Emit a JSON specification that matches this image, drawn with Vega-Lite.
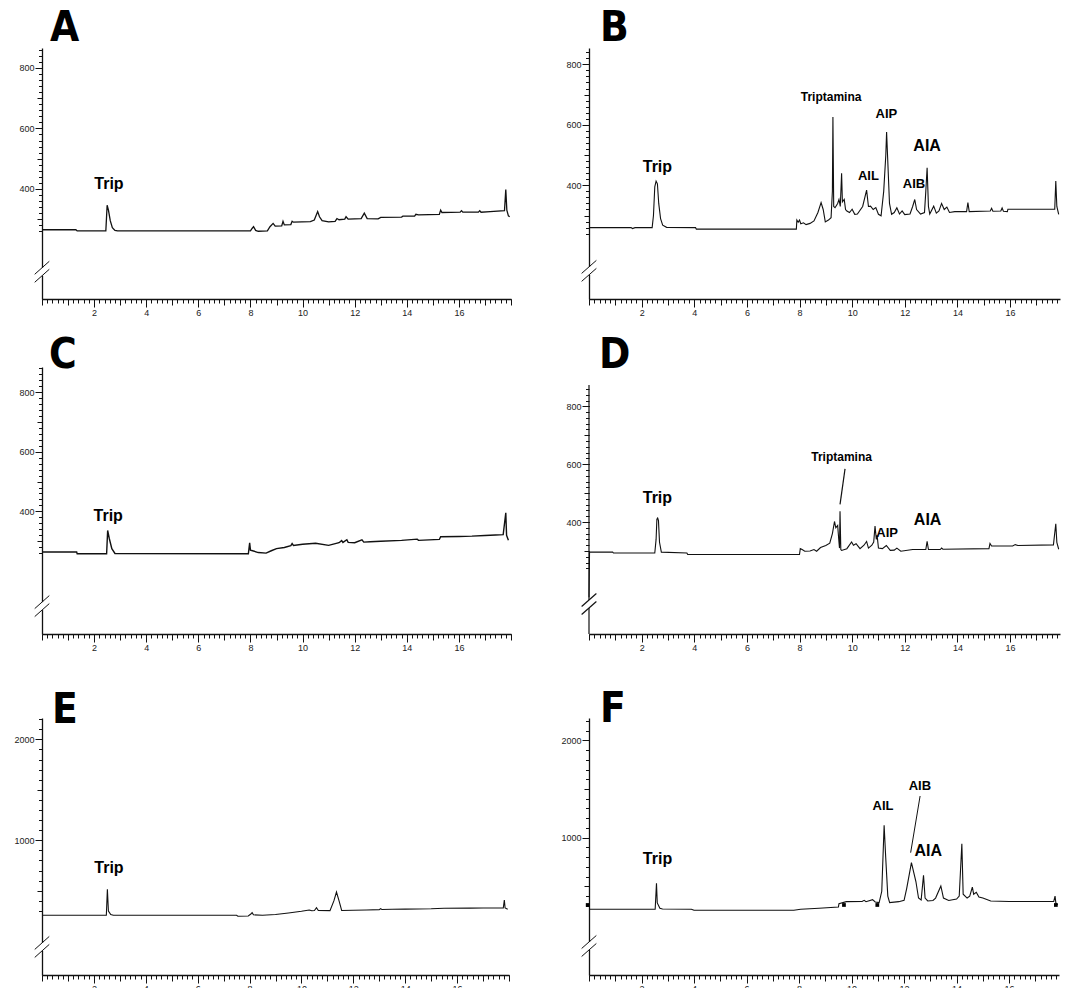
{
  "$schema": "https://vega.github.io/schema/vega-lite/v6.json",
  "padding": {"left": 5, "top": 7, "right": 0, "bottom": 0},
  "background": "white",
  "config": {
    "view": {"stroke": null},
    "axis": {"domainColor": "#111", "domainWidth": 1.3, "tickColor": "#111", "tickWidth": 1, "labelFont": "Liberation Sans", "labelFontSize": 9, "labelColor": "#222", "grid": false, "labelOverlap": false, "labelFlush": false, "labelBound": false},
    "title": {"anchor": "start", "frame": "group", "font": "Liberation Sans Narrow, DejaVu Sans Condensed, Liberation Sans", "fontSize": 42, "fontWeight": "bold", "baseline": "alphabetic", "color": "#000"},
    "text": {"font": "Liberation Sans", "fontWeight": "bold", "align": "center", "baseline": "middle", "color": "#000"}
  },
  "datasets": {
    "trA": [{"x":0,"y":265},{"x":1.3,"y":265},{"x":1.35,"y":261},{"x":2.45,"y":261},{"x":2.5,"y":346},{"x":2.55,"y":330},{"x":2.62,"y":295},{"x":2.7,"y":272},{"x":2.8,"y":263},{"x":2.9,"y":261},{"x":8.0,"y":261},{"x":8.07,"y":270},{"x":8.12,"y":275},{"x":8.2,"y":263},{"x":8.3,"y":260},{"x":8.65,"y":261},{"x":8.75,"y":275},{"x":8.87,"y":286},{"x":8.95,"y":277},{"x":9.2,"y":278},{"x":9.25,"y":293},{"x":9.3,"y":281},{"x":9.55,"y":282},{"x":9.6,"y":293},{"x":9.65,"y":290},{"x":10.3,"y":292},{"x":10.45,"y":297},{"x":10.58,"y":325},{"x":10.65,"y":308},{"x":10.75,"y":295},{"x":11.0,"y":291},{"x":11.25,"y":293},{"x":11.32,"y":302},{"x":11.4,"y":298},{"x":11.62,"y":300},{"x":11.67,"y":308},{"x":11.75,"y":300},{"x":12.25,"y":302},{"x":12.37,"y":320},{"x":12.48,"y":302},{"x":12.9,"y":301},{"x":13.0,"y":306},{"x":13.8,"y":307},{"x":13.85,"y":310},{"x":14.3,"y":310},{"x":14.35,"y":316},{"x":14.45,"y":314},{"x":15.25,"y":316},{"x":15.3,"y":330},{"x":15.35,"y":322},{"x":16.05,"y":323},{"x":16.1,"y":328},{"x":16.15,"y":323},{"x":16.75,"y":323},{"x":16.8,"y":328},{"x":16.85,"y":323},{"x":17.2,"y":325},{"x":17.75,"y":328},{"x":17.8,"y":398},{"x":17.84,"y":330},{"x":17.9,"y":311},{"x":17.95,"y":308}],
    "trB": [{"x":0,"y":260},{"x":1.6,"y":260},{"x":1.65,"y":257},{"x":1.75,"y":260},{"x":2.4,"y":260},{"x":2.45,"y":300},{"x":2.5,"y":395},{"x":2.55,"y":414},{"x":2.6,"y":405},{"x":2.65,"y":340},{"x":2.72,"y":290},{"x":2.8,"y":268},{"x":2.95,"y":261},{"x":4.05,"y":260},{"x":4.08,"y":255},{"x":7.88,"y":255},{"x":7.9,"y":285},{"x":7.95,"y":278},{"x":8.0,"y":285},{"x":8.05,"y":273},{"x":8.15,"y":276},{"x":8.25,"y":270},{"x":8.4,"y":274},{"x":8.55,"y":282},{"x":8.7,"y":310},{"x":8.82,"y":343},{"x":8.9,"y":320},{"x":8.98,"y":279},{"x":9.1,"y":285},{"x":9.2,"y":293},{"x":9.25,"y":380},{"x":9.27,"y":626},{"x":9.3,"y":330},{"x":9.35,"y":326},{"x":9.45,"y":340},{"x":9.5,"y":353},{"x":9.55,"y":330},{"x":9.6,"y":440},{"x":9.63,"y":345},{"x":9.7,"y":353},{"x":9.75,"y":320},{"x":9.8,"y":315},{"x":9.9,"y":310},{"x":10.0,"y":321},{"x":10.1,"y":304},{"x":10.2,"y":305},{"x":10.4,"y":330},{"x":10.55,"y":384},{"x":10.62,"y":330},{"x":10.7,"y":331},{"x":10.8,"y":320},{"x":10.9,"y":326},{"x":11.0,"y":304},{"x":11.1,"y":299},{"x":11.2,"y":380},{"x":11.28,"y":500},{"x":11.31,"y":576},{"x":11.35,"y":490},{"x":11.42,"y":340},{"x":11.5,"y":304},{"x":11.6,"y":310},{"x":11.7,"y":326},{"x":11.8,"y":305},{"x":11.9,"y":315},{"x":12.0,"y":303},{"x":12.2,"y":305},{"x":12.3,"y":330},{"x":12.38,"y":353},{"x":12.45,"y":320},{"x":12.6,"y":305},{"x":12.75,"y":310},{"x":12.8,"y":380},{"x":12.85,"y":458},{"x":12.9,"y":330},{"x":12.95,"y":305},{"x":13.1,"y":331},{"x":13.2,"y":308},{"x":13.3,"y":315},{"x":13.4,"y":340},{"x":13.5,"y":320},{"x":13.6,"y":328},{"x":13.7,"y":310},{"x":13.9,"y":313},{"x":14.35,"y":313},{"x":14.4,"y":343},{"x":14.45,"y":313},{"x":15.25,"y":315},{"x":15.3,"y":324},{"x":15.35,"y":314},{"x":15.65,"y":315},{"x":15.7,"y":325},{"x":15.75,"y":314},{"x":15.9,"y":313},{"x":15.92,"y":321},{"x":17.7,"y":321},{"x":17.74,"y":414},{"x":17.78,"y":330},{"x":17.85,"y":304}],
    "trC": [{"x":0,"y":264},{"x":1.33,"y":264},{"x":1.35,"y":258},{"x":2.48,"y":258},{"x":2.52,"y":336},{"x":2.58,"y":310},{"x":2.68,"y":275},{"x":2.8,"y":259},{"x":7.92,"y":258},{"x":7.97,"y":295},{"x":8.0,"y":270},{"x":8.05,"y":269},{"x":8.3,"y":262},{"x":8.6,"y":260},{"x":8.8,"y":268},{"x":9.0,"y":275},{"x":9.3,"y":279},{"x":9.55,"y":285},{"x":9.6,"y":292},{"x":9.65,"y":286},{"x":10.0,"y":290},{"x":10.5,"y":293},{"x":11.0,"y":286},{"x":11.4,"y":295},{"x":11.5,"y":302},{"x":11.55,"y":296},{"x":11.7,"y":305},{"x":11.75,"y":296},{"x":12.0,"y":295},{"x":12.28,"y":305},{"x":12.35,"y":297},{"x":12.6,"y":298},{"x":13.0,"y":300},{"x":13.8,"y":303},{"x":14.4,"y":307},{"x":14.45,"y":303},{"x":15.25,"y":306},{"x":15.3,"y":315},{"x":16.0,"y":316},{"x":16.5,"y":317},{"x":17.0,"y":319},{"x":17.4,"y":321},{"x":17.7,"y":322},{"x":17.8,"y":395},{"x":17.83,"y":320},{"x":17.9,"y":303}],
    "trD": [{"x":0,"y":140},{"x":0.02,"y":296},{"x":0.9,"y":296},{"x":0.93,"y":293},{"x":2.5,"y":293},{"x":2.55,"y":340},{"x":2.58,"y":410},{"x":2.61,"y":414},{"x":2.64,"y":405},{"x":2.68,"y":330},{"x":2.75,"y":296},{"x":3.72,"y":293},{"x":3.75,"y":288},{"x":8.0,"y":288},{"x":8.03,"y":308},{"x":8.1,"y":305},{"x":8.2,"y":299},{"x":8.4,"y":300},{"x":8.55,"y":305},{"x":8.65,"y":299},{"x":8.8,"y":312},{"x":9.0,"y":319},{"x":9.15,"y":327},{"x":9.25,"y":360},{"x":9.33,"y":402},{"x":9.38,"y":380},{"x":9.45,"y":388},{"x":9.5,"y":330},{"x":9.52,"y":310},{"x":9.54,"y":437},{"x":9.57,"y":305},{"x":9.6,"y":302},{"x":9.8,"y":308},{"x":9.98,"y":331},{"x":10.05,"y":320},{"x":10.15,"y":325},{"x":10.3,"y":308},{"x":10.45,"y":320},{"x":10.55,"y":333},{"x":10.62,"y":310},{"x":10.75,"y":320},{"x":10.82,"y":331},{"x":10.87,"y":386},{"x":10.92,"y":340},{"x":10.95,"y":354},{"x":11.0,"y":310},{"x":11.15,"y":308},{"x":11.3,"y":319},{"x":11.45,"y":302},{"x":11.6,"y":303},{"x":11.7,"y":310},{"x":11.85,"y":299},{"x":12.3,"y":305},{"x":12.8,"y":305},{"x":12.85,"y":333},{"x":12.9,"y":305},{"x":13.35,"y":305},{"x":13.4,"y":310},{"x":13.45,"y":306},{"x":15.2,"y":308},{"x":15.24,"y":326},{"x":15.3,"y":317},{"x":16.1,"y":317},{"x":16.2,"y":322},{"x":16.3,"y":319},{"x":17.65,"y":321},{"x":17.74,"y":394},{"x":17.78,"y":330},{"x":17.85,"y":306}],
    "trE": [{"x":0,"y":257},{"x":2.48,"y":257},{"x":2.52,"y":515},{"x":2.56,"y":300},{"x":2.65,"y":265},{"x":2.75,"y":257},{"x":7.5,"y":257},{"x":7.55,"y":248},{"x":7.95,"y":250},{"x":8.05,"y":270},{"x":8.1,"y":283},{"x":8.15,"y":262},{"x":8.5,"y":257},{"x":9.0,"y":265},{"x":9.5,"y":280},{"x":10.0,"y":297},{"x":10.3,"y":310},{"x":10.4,"y":302},{"x":10.5,"y":305},{"x":10.58,"y":333},{"x":10.65,"y":305},{"x":11.1,"y":303},{"x":11.25,"y":400},{"x":11.35,"y":488},{"x":11.45,"y":400},{"x":11.55,"y":305},{"x":12.0,"y":307},{"x":12.5,"y":310},{"x":13.0,"y":313},{"x":13.05,"y":323},{"x":13.1,"y":314},{"x":13.5,"y":317},{"x":14.0,"y":318},{"x":15.0,"y":322},{"x":15.5,"y":327},{"x":16.5,"y":328},{"x":17.0,"y":330},{"x":17.78,"y":330},{"x":17.82,"y":409},{"x":17.85,"y":330},{"x":17.95,"y":317}],
    "trF": [{"x":0,"y":265},{"x":2.52,"y":265},{"x":2.57,"y":532},{"x":2.6,"y":330},{"x":2.7,"y":275},{"x":2.8,"y":268},{"x":3.9,"y":265},{"x":4.0,"y":255},{"x":7.8,"y":255},{"x":8.06,"y":265},{"x":8.76,"y":275},{"x":9.5,"y":289},{"x":9.52,"y":322},{"x":9.8,"y":343},{"x":10.4,"y":345},{"x":10.48,"y":357},{"x":10.55,"y":343},{"x":10.8,"y":364},{"x":10.9,"y":340},{"x":11.05,"y":333},{"x":11.15,"y":450},{"x":11.24,"y":1127},{"x":11.3,"y":800},{"x":11.38,"y":400},{"x":11.45,"y":333},{"x":11.8,"y":343},{"x":12.0,"y":357},{"x":12.1,"y":480},{"x":12.28,"y":743},{"x":12.45,"y":550},{"x":12.55,"y":380},{"x":12.65,"y":360},{"x":12.74,"y":614},{"x":12.8,"y":380},{"x":12.9,"y":350},{"x":13.1,"y":355},{"x":13.2,"y":380},{"x":13.4,"y":504},{"x":13.5,"y":380},{"x":13.7,"y":355},{"x":14.0,"y":370},{"x":14.1,"y":400},{"x":14.2,"y":938},{"x":14.25,"y":420},{"x":14.4,"y":380},{"x":14.5,"y":400},{"x":14.6,"y":493},{"x":14.65,"y":420},{"x":14.75,"y":440},{"x":14.85,"y":390},{"x":15.0,"y":380},{"x":15.1,"y":370},{"x":15.3,"y":350},{"x":16.0,"y":345},{"x":17.7,"y":345},{"x":17.75,"y":400},{"x":17.78,"y":330},{"x":17.85,"y":310}],
    "lbA": [{"t":"Trip","x":2.57,"y":417}],
    "lbB": [{"t":"Trip","x":2.6,"y":461},{"t":"Triptamina","x":9.2,"y":693},{"t":"AIL","x":10.62,"y":431},{"t":"AIP","x":11.3,"y":635},{"t":"AIA","x":12.85,"y":530},{"t":"AIB","x":12.35,"y":405}],
    "lbC": [{"t":"Trip","x":2.54,"y":384}],
    "lbD": [{"t":"Trip","x":2.6,"y":483},{"t":"Triptamina","x":9.6,"y":625},{"t":"AIP","x":11.33,"y":363},{"t":"AIA","x":12.87,"y":406}],
    "lbE": [{"t":"Trip","x":2.58,"y":729}],
    "lbF": [{"t":"Trip","x":2.61,"y":778},{"t":"AIL","x":11.2,"y":1326},{"t":"AIB","x":12.6,"y":1531},{"t":"AIA","x":12.92,"y":863}],
    "sgA": [{"k":"gap","x":-0.15,"x2":0.15,"y":112.8,"y2":139.2},{"k":"line","x":-0.28,"y":117.7,"x2":0.28,"y2":160.7},{"k":"line","x":-0.28,"y":91.3,"x2":0.28,"y2":134.3}],
    "sgB": [{"k":"gap","x":-0.15,"x2":0.15,"y":103.8,"y2":130.2},{"k":"line","x":-0.28,"y":108.7,"x2":0.28,"y2":151.7},{"k":"line","x":-0.28,"y":82.3,"x2":0.28,"y2":125.3}],
    "sgC": [{"k":"gap","x":-0.15,"x2":0.15,"y":69.1,"y2":95.9},{"k":"line","x":-0.28,"y":74.1,"x2":0.28,"y2":117.7},{"k":"line","x":-0.28,"y":47.3,"x2":0.28,"y2":90.9}],
    "sgD": [{"k":"line","x":0,"y":13,"x2":0,"y2":102.7},{"k":"line","x":0,"y":130.3,"x2":0,"y2":874},{"k":"line","x":-0.28,"y":107.9,"x2":0.28,"y2":152.8},{"k":"line","x":-0.28,"y":80.2,"x2":0.28,"y2":125.1},{"k":"line","x":9.73,"y":584,"x2":9.54,"y2":461}],
    "sgE": [{"k":"gap","x":-0.15,"x2":0.15,"y":-95.6,"y2":-16.4},{"k":"line","x":-0.28,"y":-80.8,"x2":0.28,"y2":48},{"k":"line","x":-0.28,"y":-160,"x2":0.28,"y2":-31}],
    "sgF": [{"k":"gap","x":-0.15,"x2":0.15,"y":-153,"y2":-71},{"k":"line","x":-0.28,"y":-137.7,"x2":0.28,"y2":-4.2},{"k":"line","x":-0.28,"y":-219.8,"x2":0.28,"y2":-86.3},{"k":"line","x":12.61,"y":1428,"x2":12.25,"y2":846}],
    "sqF": [{"x":-0.05,"y":309},{"x":9.71,"y":309},{"x":10.98,"y":309},{"x":17.78,"y":309}]
  },
  "spacing": 35,
  "vconcat": [
    {
      "spacing": 16,
      "vconcat": [
        {
          "spacing": 39,
          "hconcat": [
            {
              "width": 469, "height": 251,
              "title": {"text": "A", "offset": -2, "dx": 8},
              "resolve": {"axis": {"x": "independent", "y": "independent"}},
              "layer": [
                {"data": {"name": "sgA"}, "transform": [{"filter": "datum.k === 'gap'"}], "mark": {"type": "rect", "fill": "white"},
                 "encoding": {"x": {"field": "x", "type": "quantitative", "scale": {"domain": [0, 18], "nice": false, "zero": false}, "axis": {"orient": "bottom", "title": null, "tickCount": 90, "labels": false, "domain": false, "tickSize": 4}},
                              "y": {"field": "y", "type": "quantitative", "scale": {"domain": [36, 866], "nice": false, "zero": false}, "axis": {"orient": "left", "title": null, "values": [260,280,300,320,340,360,380,400,420,440,460,480,500,520,540,560,580,600,620,640,660,680,700,720,740,760,780,800,820,840,860], "labels": false, "domain": false, "tickSize": 3.5}},
                              "x2": {"field": "x2"}, "y2": {"field": "y2"}}},
                {"data": {"name": "sgA"}, "transform": [{"filter": "datum.k === 'line'"}], "mark": {"type": "rule", "color": "#111", "strokeWidth": 1},
                 "encoding": {"x": {"field": "x", "type": "quantitative", "scale": {"domain": [0, 18], "nice": false, "zero": false}, "axis": {"orient": "bottom", "title": null, "tickCount": 18, "labels": false, "domain": false, "tickSize": 6}},
                              "y": {"field": "y", "type": "quantitative", "scale": {"domain": [36, 866], "nice": false, "zero": false}, "axis": {"orient": "left", "title": null, "values": [300,400,500,600,700,800], "labels": false, "domain": false, "tickSize": 5}},
                              "x2": {"field": "x2"}, "y2": {"field": "y2"}}},
                {"data": {"name": "trA"}, "mark": {"type": "line", "color": "#111", "strokeWidth": 1.3},
                 "encoding": {"x": {"field": "x", "type": "quantitative", "scale": {"domain": [0, 18], "nice": false, "zero": false}, "axis": {"orient": "bottom", "title": null, "values": [2,4,6,8,10,12,14,16], "format": "d", "tickSize": 8, "labelPadding": 1.5, "minExtent": 19, "maxExtent": 19}},
                              "y": {"field": "y", "type": "quantitative", "scale": {"domain": [36, 866], "nice": false, "zero": false}, "axis": {"orient": "left", "title": null, "values": [400,600,800], "format": "d", "tickSize": 7, "labelPadding": 1, "minExtent": 37, "maxExtent": 37}}}},
                {"data": {"name": "lbA"}, "mark": {"type": "text", "fontSize": 16},
                 "encoding": {"x": {"field": "x", "type": "quantitative", "scale": {"domain": [0, 18], "nice": false, "zero": false}, "axis": null},
                              "y": {"field": "y", "type": "quantitative", "scale": {"domain": [36, 866], "nice": false, "zero": false}, "axis": null},
                              "text": {"field": "t"}}}
              ]
            },
            {
              "width": 471, "height": 251,
              "title": {"text": "B", "offset": -2, "dx": 11},
              "resolve": {"axis": {"x": "independent", "y": "independent"}},
              "layer": [
                {"data": {"name": "sgB"}, "transform": [{"filter": "datum.k === 'gap'"}], "mark": {"type": "rect", "fill": "white"},
                 "encoding": {"x": {"field": "x", "type": "quantitative", "scale": {"domain": [0, 17.9], "nice": false, "zero": false}, "axis": {"orient": "bottom", "title": null, "tickCount": 90, "labels": false, "domain": false, "tickSize": 4}},
                              "y": {"field": "y", "type": "quantitative", "scale": {"domain": [24, 854], "nice": false, "zero": false}, "axis": {"orient": "left", "title": null, "values": [240,260,280,300,320,340,360,380,400,420,440,460,480,500,520,540,560,580,600,620,640,660,680,700,720,740,760,780,800,820,840], "labels": false, "domain": false, "tickSize": 3.5}},
                              "x2": {"field": "x2"}, "y2": {"field": "y2"}}},
                {"data": {"name": "sgB"}, "transform": [{"filter": "datum.k === 'line'"}], "mark": {"type": "rule", "color": "#111", "strokeWidth": 1},
                 "encoding": {"x": {"field": "x", "type": "quantitative", "scale": {"domain": [0, 17.9], "nice": false, "zero": false}, "axis": {"orient": "bottom", "title": null, "tickCount": 18, "labels": false, "domain": false, "tickSize": 6}},
                              "y": {"field": "y", "type": "quantitative", "scale": {"domain": [24, 854], "nice": false, "zero": false}, "axis": {"orient": "left", "title": null, "values": [300,400,500,600,700,800], "labels": false, "domain": false, "tickSize": 5}},
                              "x2": {"field": "x2"}, "y2": {"field": "y2"}}},
                {"data": {"name": "trB"}, "mark": {"type": "line", "color": "#111", "strokeWidth": 1.1},
                 "encoding": {"x": {"field": "x", "type": "quantitative", "scale": {"domain": [0, 17.9], "nice": false, "zero": false}, "axis": {"orient": "bottom", "title": null, "values": [2,4,6,8,10,12,14,16], "format": "d", "tickSize": 8, "labelPadding": 1.5, "minExtent": 19, "maxExtent": 19}},
                              "y": {"field": "y", "type": "quantitative", "scale": {"domain": [24, 854], "nice": false, "zero": false}, "axis": {"orient": "left", "title": null, "values": [400,600,800], "format": "d", "tickSize": 7, "labelPadding": 1, "minExtent": 37, "maxExtent": 37}}}},
                {"data": {"name": "lbB"}, "transform": [{"filter": "datum.t === 'Trip' || datum.t === 'AIA'"}], "mark": {"type": "text", "fontSize": 16},
                 "encoding": {"x": {"field": "x", "type": "quantitative", "scale": {"domain": [0, 17.9], "nice": false, "zero": false}, "axis": null},
                              "y": {"field": "y", "type": "quantitative", "scale": {"domain": [24, 854], "nice": false, "zero": false}, "axis": null},
                              "text": {"field": "t"}}},
                {"data": {"name": "lbB"}, "transform": [{"filter": "datum.t === 'AIL' || datum.t === 'AIP' || datum.t === 'AIB'"}], "mark": {"type": "text", "fontSize": 13},
                 "encoding": {"x": {"field": "x", "type": "quantitative", "scale": {"domain": [0, 17.9], "nice": false, "zero": false}, "axis": null},
                              "y": {"field": "y", "type": "quantitative", "scale": {"domain": [24, 854], "nice": false, "zero": false}, "axis": null},
                              "text": {"field": "t"}}},
                {"data": {"name": "lbB"}, "transform": [{"filter": "datum.t === 'Triptamina'"}], "mark": {"type": "text", "fontSize": 12},
                 "encoding": {"x": {"field": "x", "type": "quantitative", "scale": {"domain": [0, 17.9], "nice": false, "zero": false}, "axis": null},
                              "y": {"field": "y", "type": "quantitative", "scale": {"domain": [24, 854], "nice": false, "zero": false}, "axis": null},
                              "text": {"field": "t"}}}
              ]
            }
          ]
        },
        {
          "spacing": 40,
          "hconcat": [
            {
              "width": 469, "height": 267,
              "title": {"text": "C", "offset": -10, "dx": 7},
              "resolve": {"axis": {"x": "independent", "y": "independent"}},
              "layer": [
                {"data": {"name": "sgC"}, "transform": [{"filter": "datum.k === 'gap'"}], "mark": {"type": "rect", "fill": "white"},
                 "encoding": {"x": {"field": "x", "type": "quantitative", "scale": {"domain": [0, 18], "nice": false, "zero": false}, "axis": {"orient": "bottom", "title": null, "tickCount": 90, "labels": false, "domain": false, "tickSize": 4}},
                              "y": {"field": "y", "type": "quantitative", "scale": {"domain": [-11, 884], "nice": false, "zero": false}, "axis": {"orient": "left", "title": null, "values": [260,280,300,320,340,360,380,400,420,440,460,480,500,520,540,560,580,600,620,640,660,680,700,720,740,760,780,800,820,840,860,880], "labels": false, "domain": false, "tickSize": 3.5}},
                              "x2": {"field": "x2"}, "y2": {"field": "y2"}}},
                {"data": {"name": "sgC"}, "transform": [{"filter": "datum.k === 'line'"}], "mark": {"type": "rule", "color": "#111", "strokeWidth": 1},
                 "encoding": {"x": {"field": "x", "type": "quantitative", "scale": {"domain": [0, 18], "nice": false, "zero": false}, "axis": {"orient": "bottom", "title": null, "tickCount": 18, "labels": false, "domain": false, "tickSize": 6}},
                              "y": {"field": "y", "type": "quantitative", "scale": {"domain": [-11, 884], "nice": false, "zero": false}, "axis": {"orient": "left", "title": null, "values": [300,400,500,600,700,800], "labels": false, "domain": false, "tickSize": 5}},
                              "x2": {"field": "x2"}, "y2": {"field": "y2"}}},
                {"data": {"name": "trC"}, "mark": {"type": "line", "color": "#111", "strokeWidth": 1.4},
                 "encoding": {"x": {"field": "x", "type": "quantitative", "scale": {"domain": [0, 18], "nice": false, "zero": false}, "axis": {"orient": "bottom", "title": null, "values": [2,4,6,8,10,12,14,16], "format": "d", "tickSize": 8, "labelPadding": 1.5, "minExtent": 19, "maxExtent": 19}},
                              "y": {"field": "y", "type": "quantitative", "scale": {"domain": [-11, 884], "nice": false, "zero": false}, "axis": {"orient": "left", "title": null, "values": [400,600,800], "format": "d", "tickSize": 7, "labelPadding": 1, "minExtent": 37, "maxExtent": 37}}}},
                {"data": {"name": "lbC"}, "mark": {"type": "text", "fontSize": 16},
                 "encoding": {"x": {"field": "x", "type": "quantitative", "scale": {"domain": [0, 18], "nice": false, "zero": false}, "axis": null},
                              "y": {"field": "y", "type": "quantitative", "scale": {"domain": [-11, 884], "nice": false, "zero": false}, "axis": null},
                              "text": {"field": "t"}}}
              ]
            },
            {
              "width": 471, "height": 267,
              "title": {"text": "D", "offset": -10, "dx": 10},
              "resolve": {"axis": {"x": "independent", "y": "independent"}},
              "layer": [
                {"data": {"name": "sgD"}, "transform": [{"filter": "datum.k === 'line'"}], "mark": {"type": "rule", "color": "#111", "strokeWidth": 1.2},
                 "encoding": {"x": {"field": "x", "type": "quantitative", "scale": {"domain": [0, 17.9], "nice": false, "zero": false}, "axis": {"orient": "bottom", "title": null, "tickCount": 90, "labels": false, "domain": false, "tickSize": 4}},
                              "y": {"field": "y", "type": "quantitative", "scale": {"domain": [13, 936], "nice": false, "zero": false}, "axis": {"orient": "left", "title": null, "values": [240,260,280,300,320,340,360,380,400,420,440,460,480,500,520,540,560,580,600,620,640,660,680,700,720,740,760,780,800,820,840,860], "labels": false, "domain": false, "tickSize": 3.5}},
                              "x2": {"field": "x2"}, "y2": {"field": "y2"}}},
                {"data": {"name": "trD"}, "mark": {"type": "line", "color": "#111", "strokeWidth": 1.1},
                 "encoding": {"x": {"field": "x", "type": "quantitative", "scale": {"domain": [0, 17.9], "nice": false, "zero": false}, "axis": {"orient": "bottom", "title": null, "tickCount": 18, "labels": false, "domain": false, "tickSize": 6}},
                              "y": {"field": "y", "type": "quantitative", "scale": {"domain": [13, 936], "nice": false, "zero": false}, "axis": {"orient": "left", "title": null, "values": [300,400,500,600,700,800], "labels": false, "domain": false, "tickSize": 5}}}},
                {"data": {"name": "lbD"}, "transform": [{"filter": "datum.t === 'Trip' || datum.t === 'AIA'"}], "mark": {"type": "text", "fontSize": 16},
                 "encoding": {"x": {"field": "x", "type": "quantitative", "scale": {"domain": [0, 17.9], "nice": false, "zero": false}, "axis": {"orient": "bottom", "title": null, "values": [2,4,6,8,10,12,14,16], "format": "d", "tickSize": 8, "labelPadding": 1.5, "minExtent": 19, "maxExtent": 19}},
                              "y": {"field": "y", "type": "quantitative", "scale": {"domain": [13, 936], "nice": false, "zero": false}, "axis": {"orient": "left", "title": null, "values": [400,600,800], "format": "d", "domain": false, "tickSize": 7, "labelPadding": 1, "minExtent": 37, "maxExtent": 37}},
                              "text": {"field": "t"}}},
                {"data": {"name": "lbD"}, "transform": [{"filter": "datum.t === 'AIP'"}], "mark": {"type": "text", "fontSize": 13},
                 "encoding": {"x": {"field": "x", "type": "quantitative", "scale": {"domain": [0, 17.9], "nice": false, "zero": false}, "axis": null},
                              "y": {"field": "y", "type": "quantitative", "scale": {"domain": [13, 936], "nice": false, "zero": false}, "axis": null},
                              "text": {"field": "t"}}},
                {"data": {"name": "lbD"}, "transform": [{"filter": "datum.t === 'Triptamina'"}], "mark": {"type": "text", "fontSize": 12},
                 "encoding": {"x": {"field": "x", "type": "quantitative", "scale": {"domain": [0, 17.9], "nice": false, "zero": false}, "axis": null},
                              "y": {"field": "y", "type": "quantitative", "scale": {"domain": [13, 936], "nice": false, "zero": false}, "axis": null},
                              "text": {"field": "t"}}}
              ]
            }
          ]
        }
      ]
    },
    {
      "spacing": 40,
      "hconcat": [
        {
          "width": 467, "height": 257,
          "title": {"text": "E", "offset": -14, "dx": 10},
          "resolve": {"axis": {"x": "independent", "y": "independent"}},
          "layer": [
            {"data": {"name": "sgE"}, "transform": [{"filter": "datum.k === 'gap'"}], "mark": {"type": "rect", "fill": "white"},
             "encoding": {"x": {"field": "x", "type": "quantitative", "scale": {"domain": [0, 18], "nice": false, "zero": false}, "axis": {"orient": "bottom", "title": null, "tickCount": 90, "labels": false, "domain": false, "tickSize": 4}},
                          "y": {"field": "y", "type": "quantitative", "scale": {"domain": [-334, 2211], "nice": false, "zero": false}, "axis": {"orient": "left", "title": null, "values": [300,400,500,600,700,800,900,1000,1100,1200,1300,1400,1500,1600,1700,1800,1900,2000,2100,2200], "labels": false, "domain": false, "tickSize": 3.5}},
                          "x2": {"field": "x2"}, "y2": {"field": "y2"}}},
            {"data": {"name": "sgE"}, "transform": [{"filter": "datum.k === 'line'"}], "mark": {"type": "rule", "color": "#111", "strokeWidth": 1},
             "encoding": {"x": {"field": "x", "type": "quantitative", "scale": {"domain": [0, 18], "nice": false, "zero": false}, "axis": {"orient": "bottom", "title": null, "tickCount": 18, "labels": false, "domain": false, "tickSize": 6}},
                          "y": {"field": "y", "type": "quantitative", "scale": {"domain": [-334, 2211], "nice": false, "zero": false}, "axis": {"orient": "left", "title": null, "values": [500,1500], "labels": false, "domain": false, "tickSize": 5}},
                          "x2": {"field": "x2"}, "y2": {"field": "y2"}}},
            {"data": {"name": "trE"}, "mark": {"type": "line", "color": "#111", "strokeWidth": 1.1},
             "encoding": {"x": {"field": "x", "type": "quantitative", "scale": {"domain": [0, 18], "nice": false, "zero": false}, "axis": {"orient": "bottom", "title": null, "values": [2,4,6,8,10,12,14,16], "format": "d", "tickSize": 8, "labelPadding": 1.5, "minExtent": 19, "maxExtent": 19}},
                          "y": {"field": "y", "type": "quantitative", "scale": {"domain": [-334, 2211], "nice": false, "zero": false}, "axis": {"orient": "left", "title": null, "values": [1000,2000], "format": "d", "tickSize": 7, "labelPadding": 1, "minExtent": 37, "maxExtent": 37}}}},
            {"data": {"name": "lbE"}, "mark": {"type": "text", "fontSize": 16},
             "encoding": {"x": {"field": "x", "type": "quantitative", "scale": {"domain": [0, 18], "nice": false, "zero": false}, "axis": null},
                          "y": {"field": "y", "type": "quantitative", "scale": {"domain": [-334, 2211], "nice": false, "zero": false}, "axis": null},
                          "text": {"field": "t"}}}
          ]
        },
        {
          "width": 470, "height": 257,
          "title": {"text": "F", "offset": -13, "dx": 11},
          "resolve": {"axis": {"x": "independent", "y": "independent"}},
          "layer": [
            {"data": {"name": "sgF"}, "transform": [{"filter": "datum.k === 'gap'"}], "mark": {"type": "rect", "fill": "white"},
             "encoding": {"x": {"field": "x", "type": "quantitative", "scale": {"domain": [0, 17.9], "nice": false, "zero": false}, "axis": {"orient": "bottom", "title": null, "tickCount": 90, "labels": false, "domain": false, "tickSize": 4}},
                          "y": {"field": "y", "type": "quantitative", "scale": {"domain": [-410, 2229], "nice": false, "zero": false}, "axis": {"orient": "left", "title": null, "values": [300,400,500,600,700,800,900,1000,1100,1200,1300,1400,1500,1600,1700,1800,1900,2000,2100,2200], "labels": false, "domain": false, "tickSize": 3.5}},
                          "x2": {"field": "x2"}, "y2": {"field": "y2"}}},
            {"data": {"name": "sgF"}, "transform": [{"filter": "datum.k === 'line'"}], "mark": {"type": "rule", "color": "#111", "strokeWidth": 1},
             "encoding": {"x": {"field": "x", "type": "quantitative", "scale": {"domain": [0, 17.9], "nice": false, "zero": false}, "axis": {"orient": "bottom", "title": null, "tickCount": 18, "labels": false, "domain": false, "tickSize": 6}},
                          "y": {"field": "y", "type": "quantitative", "scale": {"domain": [-410, 2229], "nice": false, "zero": false}, "axis": {"orient": "left", "title": null, "values": [500,1500], "labels": false, "domain": false, "tickSize": 5}},
                          "x2": {"field": "x2"}, "y2": {"field": "y2"}}},
            {"data": {"name": "trF"}, "mark": {"type": "line", "color": "#111", "strokeWidth": 1.1},
             "encoding": {"x": {"field": "x", "type": "quantitative", "scale": {"domain": [0, 17.9], "nice": false, "zero": false}, "axis": {"orient": "bottom", "title": null, "values": [2,4,6,8,10,12,14,16], "format": "d", "tickSize": 8, "labelPadding": 1.5, "minExtent": 19, "maxExtent": 19}},
                          "y": {"field": "y", "type": "quantitative", "scale": {"domain": [-410, 2229], "nice": false, "zero": false}, "axis": {"orient": "left", "title": null, "values": [1000,2000], "format": "d", "tickSize": 7, "labelPadding": 1, "minExtent": 39, "maxExtent": 39}}}},
            {"data": {"name": "sqF"}, "mark": {"type": "point", "shape": "square", "filled": true, "color": "#000", "size": 14, "opacity": 1},
             "encoding": {"x": {"field": "x", "type": "quantitative", "scale": {"domain": [0, 17.9], "nice": false, "zero": false}, "axis": null},
                          "y": {"field": "y", "type": "quantitative", "scale": {"domain": [-410, 2229], "nice": false, "zero": false}, "axis": null}}},
            {"data": {"name": "lbF"}, "transform": [{"filter": "datum.t === 'Trip' || datum.t === 'AIA'"}], "mark": {"type": "text", "fontSize": 16},
             "encoding": {"x": {"field": "x", "type": "quantitative", "scale": {"domain": [0, 17.9], "nice": false, "zero": false}, "axis": null},
                          "y": {"field": "y", "type": "quantitative", "scale": {"domain": [-410, 2229], "nice": false, "zero": false}, "axis": null},
                          "text": {"field": "t"}}},
            {"data": {"name": "lbF"}, "transform": [{"filter": "datum.t === 'AIL' || datum.t === 'AIB'"}], "mark": {"type": "text", "fontSize": 13},
             "encoding": {"x": {"field": "x", "type": "quantitative", "scale": {"domain": [0, 17.9], "nice": false, "zero": false}, "axis": null},
                          "y": {"field": "y", "type": "quantitative", "scale": {"domain": [-410, 2229], "nice": false, "zero": false}, "axis": null},
                          "text": {"field": "t"}}}
          ]
        }
      ]
    }
  ]
}
